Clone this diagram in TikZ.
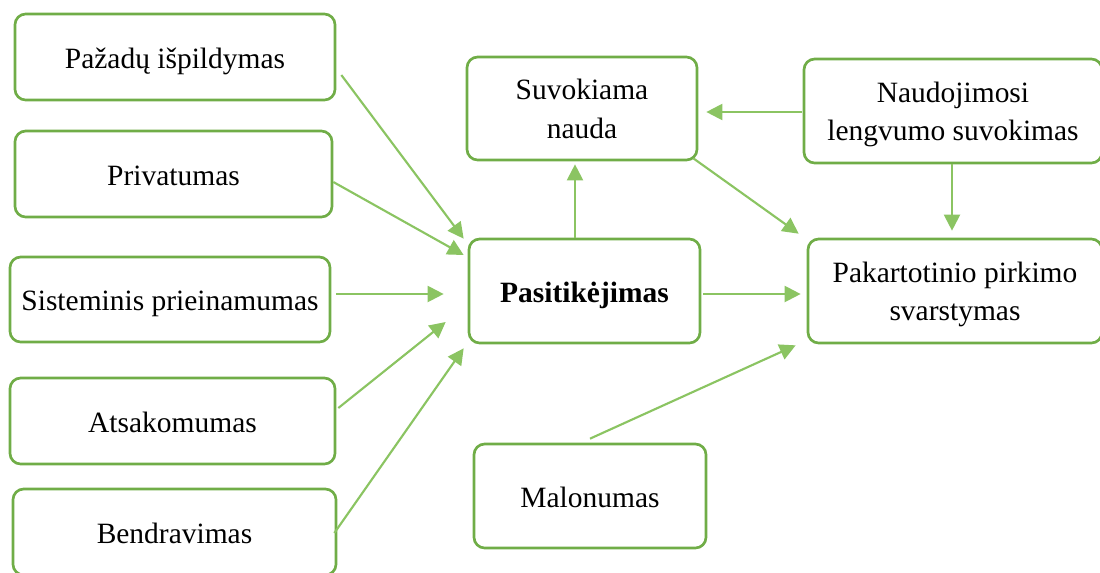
\documentclass[tikz,border=0pt]{standalone}
\usepackage{fontspec}
\setmainfont{Liberation Serif}
\usetikzlibrary{arrows.meta}
\definecolor{boxgreen}{RGB}{112,173,71}
\definecolor{arrowgreen}{RGB}{139,196,98}
\tikzset{
  factor/.style 2 args={draw=boxgreen, line width=2pt, rounded corners=8pt,
    fill=white, align=center, inner sep=0pt,
    minimum width=#1*0.75pt, minimum height=#2*0.75pt,
    font=\fontsize{22.1}{29}\selectfont},
  oneline/.style={text height=22pt, text depth=5pt},
  twolines/.style={text height=49.5pt, text depth=5pt},
  link/.style={draw=arrowgreen, line width=1.6pt,
    -{Triangle[length=12pt,width=12pt]}}
}
\begin{document}
\begin{tikzpicture}[x=0.75pt, y=-0.75pt]
\useasboundingbox (0,0) rectangle (1100,572);
\clip (0,0) rectangle (1100,572);

% left column of antecedents
\node[factor={320}{86}, oneline] (p1) at (175,57) {Pažadų išpildymas};
\node[factor={317}{86}, oneline] (p2) at (173.5,174) {Privatumas};
\node[factor={320}{85}, oneline] (p3) at (170,299.5) {Sisteminis prieinamumas};
\node[factor={325}{86}, oneline] (p4) at (172.5,421) {Atsakomumas};
\node[factor={323}{86}, oneline] (p5) at (174.5,532) {Bendravimas};

% central and right constructs
\node[factor={231}{104}, oneline] (trust) at (584.5,291) {\textbf{Pasitikėjimas}};
\node[factor={230}{103}, twolines] (benefit) at (582,108.5) {Suvokiama\\nauda};
\node[factor={298}{104}, twolines] (ease) at (953,111) {Naudojimosi\\lengvumo suvokimas};
\node[factor={294}{104}, twolines] (repurchase) at (955,291) {Pakartotinio pirkimo\\svarstymas};
\node[factor={232}{104}, oneline] (pleasure) at (590,496) {Malonumas};

% links into trust
\draw[link] ([shift={(5,18)}]p1.east) -- ([shift={(-4,1)}]trust.north west);
\draw[link] ([shift={(0,8)}]p2.east) -- ([shift={(-4,-36)}]trust.west);
\draw[link] ([shift={(5,-5.5)}]p3.east) -- ([shift={(-24,3)}]trust.west);
\draw[link] ([shift={(2,-13)}]p4.east) -- ([shift={(-22,31)}]trust.west);
\draw[link] ([shift={(-3,1)}]p5.east) -- ([shift={(-4,4)}]trust.south west);

% remaining links
\draw[link] ([shift={(-9.5,0)}]trust.north) -- ([shift={(-7,3)}]benefit.south);
\draw[link] ([shift={(2,3)}]trust.east) -- ([shift={(-6,3)}]repurchase.west);
\draw[link] ([shift={(-5,-3)}]benefit.south east) -- ([shift={(-8,-4)}]repurchase.north west);
\draw[link] ([shift={(-1,1)}]ease.west) -- ([shift={(8,3.5)}]benefit.east);
\draw[link] ([shift={(-1,0)}]ease.south) -- ([shift={(-3,-7)}]repurchase.north);
\draw[link] ([shift={(0,-4)}]pleasure.north) -- ([shift={(-11,1)}]repurchase.south west);
\end{tikzpicture}
\end{document}
